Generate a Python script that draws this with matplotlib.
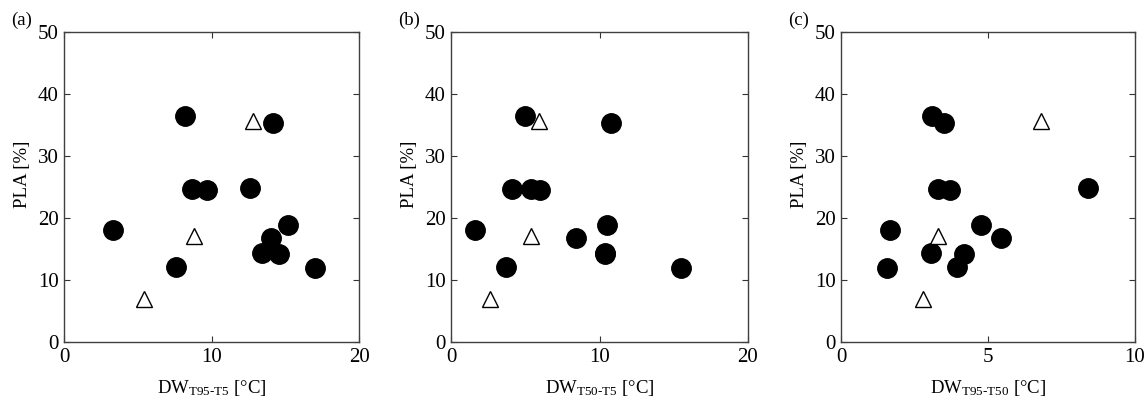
import matplotlib
matplotlib.use("Agg")
import matplotlib.pyplot as plt

plt.rcParams["font.family"] = ["Liberation Serif", "DejaVu Serif"]
plt.rcParams["mathtext.fontset"] = "custom"
plt.rcParams["mathtext.rm"] = "Liberation Serif"
plt.rcParams["mathtext.it"] = "Liberation Serif:italic"

# panel (a): DW T95-T5
a_circ_x = [3.3, 8.2, 8.7, 9.7, 7.6, 12.6, 14.2, 15.2, 14.0, 13.4, 14.6, 17.0]
a_circ_y = [18.0, 36.5, 24.7, 24.5, 12.1, 24.8, 35.3, 18.9, 16.8, 14.3, 14.2, 12.0]
a_tri_x = [5.4, 8.8, 12.8]
a_tri_y = [7.0, 17.1, 35.6]

# panel (b): DW T50-T5
b_circ_x = [1.6, 5.0, 10.8, 4.1, 5.4, 6.0, 3.7, 8.4, 10.5, 10.4, 10.4, 15.5]
b_circ_y = [18.0, 36.5, 35.3, 24.7, 24.7, 24.5, 12.1, 16.8, 18.9, 14.3, 14.2, 12.0]
b_tri_x = [2.6, 5.4, 5.9]
b_tri_y = [7.0, 17.1, 35.6]

# panel (c): DW T95-T50
c_circ_x = [1.65, 1.55, 3.1, 3.5, 3.3, 3.7, 8.4, 4.75, 5.45, 3.05, 4.2, 3.95]
c_circ_y = [18.0, 12.0, 36.5, 35.3, 24.7, 24.5, 24.8, 18.9, 16.8, 14.3, 14.2, 12.1]
c_tri_x = [2.8, 3.3, 6.8]
c_tri_y = [7.0, 17.1, 35.6]

panels = [
    ("(a)", a_circ_x, a_circ_y, a_tri_x, a_tri_y, 20, [0, 10, 20], r"DW$_{\text{T95-T5}}$ [°C]"),
    ("(b)", b_circ_x, b_circ_y, b_tri_x, b_tri_y, 20, [0, 10, 20], r"DW$_{\text{T50-T5}}$ [°C]"),
    ("(c)", c_circ_x, c_circ_y, c_tri_x, c_tri_y, 10, [0, 5, 10], r"DW$_{\text{T95-T50}}$ [°C]"),
]

lefts = [64, 451, 841]
widths = [295, 297, 294]

fig = plt.figure(figsize=(11.48, 4.01), dpi=100)

for (tag, cx, cy, tx, ty, xmax, xt, xlab), l, w in zip(panels, lefts, widths):
    ax = fig.add_axes([l / 1148, 59 / 401, w / 1148, 310 / 401])
    ax.plot(cx, cy, "o", color="black", markersize=14, linestyle="none")
    ax.plot(tx, ty, "^", markerfacecolor="white", markeredgecolor="black",
            markersize=12, markeredgewidth=1.0, linestyle="none")
    ax.set_xlim(0, xmax)
    ax.set_ylim(0, 50)
    ax.set_xticks(xt)
    ax.set_yticks([0, 10, 20, 30, 40, 50])
    ax.tick_params(direction="in", top=True, right=True, labelsize=15,
                   length=4, width=0.8, colors="#333333", labelcolor="black", pad=4)
    for s in ax.spines.values():
        s.set_color("#404040")
        s.set_linewidth(1.0)
    ax.set_xlabel(xlab, fontsize=13.5, labelpad=8)
    ax.set_ylabel("PLA [%]", fontsize=13.5)
    ax.yaxis.set_label_coords(-33 / w, 0.54)
    fig.text((l - 53) / 1148, 1 - 20 / 401, tag, fontsize=13.5, ha="left", va="center")

fig.savefig("out.png", dpi=100, facecolor="white")
